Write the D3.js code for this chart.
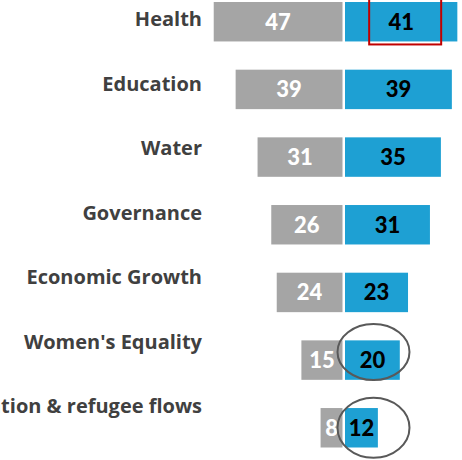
<!DOCTYPE html>
<html>
<head>
<meta charset="utf-8">
<script src="https://cdn.jsdelivr.net/npm/d3@7"></script>
<style>
  body { margin: 0; background: #fff; }
  svg { display: block; }
</style>
</head>
<body>
<div id="container"></div>
<script>
const categories = ["Health", "Education", "Water", "Governance", "Economic Growth", "Women's Equality", "Migration & refugee flows"]
const grayValues = [47, 39, 31, 26, 24, 15, 8]
const blueValues = [41, 39, 35, 31, 23, 20, 12]

const width = 462, height = 460

const svg = d3.select("div#container")
    .append("svg")
    .attr("width", width)
    .attr("height", height)

// left bars grow leftward from the middle, right bars rightward
const xLeft = d3.scaleLinear().domain([0, 50]).range([342.5, 342.5 - 137])
const xRight = d3.scaleLinear().domain([0, 50]).range([345, 345 + 137])

const y = d3.scaleBand()
    .domain(categories)
    .range([2, 447.5])
    .paddingInner(0.417)
    .paddingOuter(0)

// category labels sit on a slightly tighter grid than the bars
const yLabel = d3.scalePoint()
    .domain(categories)
    .range([19, 406])

const rows = categories.map((c, i) => ({ cat: c, gray: grayValues[i], blue: blueValues[i] }))

const row = svg.selectAll("g.row")
    .data(rows)
    .enter()
    .append("g")
    .attr("class", "row")

row.append("rect")
    .attr("x", d => xLeft(d.gray))
    .attr("y", d => y(d.cat))
    .attr("width", d => xLeft(0) - xLeft(d.gray))
    .attr("height", y.bandwidth())
    .attr("fill", "#a5a5a5")

row.append("rect")
    .attr("x", xRight(0))
    .attr("y", d => y(d.cat))
    .attr("width", d => xRight(d.blue) - xRight(0))
    .attr("height", y.bandwidth())
    .attr("fill", "#1ea0d3")

row.append("text")
    .attr("x", d => (xLeft(d.gray) + xLeft(0)) / 2)
    .attr("y", d => y(d.cat) + y.bandwidth() / 2)
    .attr("dy", "0.36em")
    .attr("text-anchor", "middle")
    .style("font-family", "Lato, 'Open Sans', sans-serif")
    .style("font-weight", "900")
    .style("font-size", "22px")
    .style("fill", "#fff")
    .text(d => d.gray)

row.append("text")
    .attr("x", d => (xRight(d.blue) + xRight(0)) / 2)
    .attr("y", d => y(d.cat) + y.bandwidth() / 2)
    .attr("dy", "0.36em")
    .attr("text-anchor", "middle")
    .style("font-family", "Lato, 'Open Sans', sans-serif")
    .style("font-weight", "900")
    .style("font-size", "22px")
    .style("fill", "#000")
    .text(d => d.blue)

row.append("text")
    .attr("x", 202)
    .attr("y", d => yLabel(d.cat))
    .attr("dy", "0.36em")
    .attr("text-anchor", "end")
    .style("font-family", "'Open Sans', sans-serif")
    .style("font-weight", "bold")
    .style("font-size", "20px")
    .style("fill", "#404040")
    .text(d => d.cat)

// annotations
const hi = rows[0]
const hiMid = (xRight(0) + xRight(hi.blue)) / 2 + 4
svg.append("rect")
    .attr("x", hiMid - 36)
    .attr("y", y(hi.cat) - 4)
    .attr("width", 72)
    .attr("height", y.bandwidth() + 7)
    .attr("fill", "none")
    .attr("stroke", "#c00000")
    .attr("stroke-width", 2)

const circled = [{ r: rows[5], dy: -8, ry: 28 }, { r: rows[6], dy: 0, ry: 30 }]
svg.selectAll("ellipse")
    .data(circled)
    .enter()
    .append("ellipse")
    .attr("cx", xRight(10.4))
    .attr("cy", d => y(d.r.cat) + y.bandwidth() / 2 + d.dy)
    .attr("rx", 36)
    .attr("ry", d => d.ry)
    .attr("fill", "none")
    .attr("stroke", "#595959")
    .attr("stroke-width", 2)
</script>
</body>
</html>
